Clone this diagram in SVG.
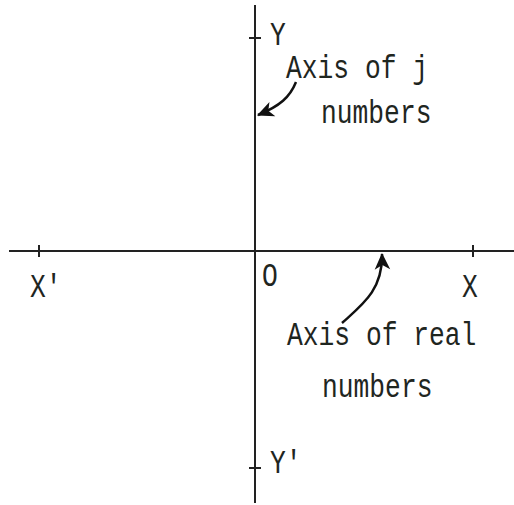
<svg xmlns="http://www.w3.org/2000/svg" width="514" height="505" viewBox="0 0 514 505">
<style>
.ax{stroke:#222;stroke-width:2;fill:none}
.tk{stroke:#222;stroke-width:2}
.lbl{font-family:"Liberation Mono","Courier New",monospace;font-size:26.3px;fill:#1f261f}
.cn{stroke:#111;stroke-width:2.5;fill:none;marker-end:url(#ah)}
</style>
<defs>
<marker id="ah" markerUnits="userSpaceOnUse" markerWidth="20" markerHeight="20" viewBox="-16 -9 18 18" refX="0" refY="0" orient="auto">
<path d="M1,0 L-14,-7 L-10,0 L-14,7 Z" fill="#111"/>
</marker>
</defs>
<rect width="514" height="505" fill="#fff"/>
<g id="axes">
<line class="ax" x1="255" y1="5" x2="255" y2="503"/>
<line class="ax" x1="9" y1="251" x2="514" y2="251"/>
<line class="tk" x1="249" y1="38" x2="261" y2="38"/>
<line class="tk" x1="249" y1="468" x2="261" y2="468"/>
<line class="tk" x1="39" y1="245" x2="39" y2="257"/>
<line class="tk" x1="473" y1="245" x2="473" y2="257"/>
</g>
<g id="label-Y"><text class="lbl" transform="translate(270,45) scale(1,1.29)">Y</text></g>
<g id="label-Yp"><text class="lbl" transform="translate(270,473) scale(1,1.29)">Y'</text></g>
<g id="label-Xp"><text class="lbl" transform="translate(30,297) scale(1,1.29)">X'</text></g>
<g id="label-X"><text class="lbl" transform="translate(462,297) scale(1,1.29)">X</text></g>
<g id="label-O"><text class="lbl" transform="translate(262,286) scale(1,1.29)">O</text></g>
<g id="label-j">
<text class="lbl" transform="translate(286,78) scale(1,1.29)">Axis of j</text>
<text class="lbl" transform="translate(321,123) scale(1,1.29)">numbers</text>
</g>
<g id="label-real">
<text class="lbl" transform="translate(287,345) scale(1,1.29)">Axis of real</text>
<text class="lbl" transform="translate(322,397) scale(1,1.29)">numbers</text>
</g>
<g id="connectors">
<path class="cn" d="M296,82 C290,97 280,106 258,115"/>
<path class="cn" d="M342,323 C362,305 383,290 382,254"/>
</g>
</svg>
